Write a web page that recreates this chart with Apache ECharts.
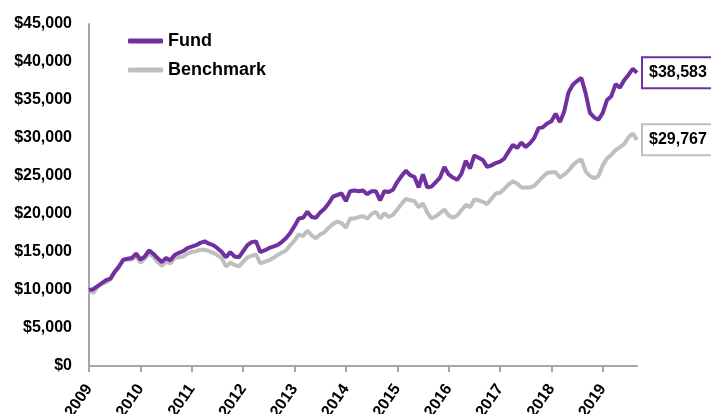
<!DOCTYPE html>
<html>
<head>
<meta charset="utf-8">
<script src="https://cdn.jsdelivr.net/npm/echarts@6/dist/echarts.min.js"></script>
<style>
    html, body { margin: 0; padding: 0; background: #fff; }
    #chart { width: 711px; height: 414px; }
</style>
</head>
<body>
<div id="chart"></div>
<script>
    // monthly growth of $10,000, Dec 2008 .. Aug 2019
    const years = ['2009', '2010', '2011', '2012', '2013', '2014', '2015', '2016', '2017', '2018', '2019']
    const fundValues = [
        10000, 10100, 10500, 10900, 11300, 11500, 12400, 13100, 14000, 14100, 14200, 14800,
        14000, 14400, 15200, 14800, 14200, 13700, 14200, 13900, 14600, 14900, 15100, 15500,
        15700, 15900, 16200, 16400, 16100, 15900, 15500, 15000, 14300, 15000, 14400, 14300,
        15100, 15900, 16300, 16400, 15000, 15200, 15500, 15700, 15900, 16300, 16800, 17500,
        18400, 19400, 19500, 20300, 19600, 19500, 20200, 20700, 21400, 22300, 22500, 22700,
        21700, 23000, 23100, 23000, 23100, 22600, 23000, 23000, 21800, 23000, 22900, 23200,
        24200, 25000, 25700, 25100, 24900, 23500, 25200, 23500, 23600, 24200, 24800, 26200,
        25200, 24800, 24500, 25300, 27000, 26000, 27700, 27400, 27100, 26200, 26400, 26700,
        26900, 27300, 28200, 29100, 28700, 29400, 28800, 29300, 30000, 31300, 31400, 31900,
        32200, 33200, 32100, 33500, 36000, 37000, 37500, 37900, 35900, 33300, 32700, 32400,
        33300, 35000, 35500, 37100, 36600, 37600, 38300, 39100, 38583
    ]
    const benchValues = [
        10000, 9600, 10400, 10800, 11000, 11400, 12300, 13000, 13900, 14000, 14000, 14500,
        13600, 14100, 14800, 14400, 13700, 13200, 13700, 13500, 14200, 14300, 14400, 14800,
        15000, 15100, 15300, 15300, 15100, 14900, 14600, 14200, 13100, 13600, 13300, 13100,
        13700, 14300, 14500, 14700, 13500, 13700, 13900, 14200, 14600, 14900, 15200, 15900,
        16500, 17300, 17100, 17800, 17200, 16800, 17300, 17600, 18200, 18700, 19000, 18800,
        18200, 19400, 19400, 19600, 19700, 19400, 20000, 20300, 19400, 20100, 19600, 19900,
        20600, 21300, 22000, 21800, 21700, 20900, 21400, 20200, 19400, 19700, 20100, 20600,
        19800, 19500, 19800, 20500, 21200, 20900, 21900, 21800, 21600, 21300, 22000, 22700,
        22800, 23300, 23900, 24300, 24000, 23500, 23500, 23500, 23700, 24300, 24900, 25400,
        25500, 25500, 24800, 25200, 25700, 26400, 26900, 27200, 25600, 25000, 24700, 25000,
        26400, 27300, 27800, 28400, 28800, 29200, 30100, 30600, 29767
    ]

    // one category per month, a year label every 12th
    const months = fundValues.map((v, i) => i)

    const font = '"Liberation Sans", Arial, sans-serif'
    const purple = '#7030A0'
    const grey = '#BFBFBF'
    const axisGrey = '#A6A6A6'
    const money = v => '$' + Math.round(v).toLocaleString('en-US')

    const chart = echarts.init(document.getElementById('chart'), null, { renderer: 'canvas' })

    const endLabel = border => ({
        show: true,
        formatter: p => money(p.value),
        distance: 6,
        fontFamily: font,
        fontSize: 16,
        fontWeight: 'bold',
        color: '#000',
        backgroundColor: '#fff',
        borderColor: border,
        borderWidth: 2,
        padding: [7, 5, 6, 6]
    })

    chart.setOption({
        animation: false,
        textStyle: { fontFamily: font },
        grid: { left: 89, right: 74, top: 24, bottom: 48, containLabel: false, outerBoundsMode: 'none' },
        legend: {
            orient: 'vertical',
            left: 123,
            top: 27,
            itemWidth: 35,
            itemHeight: 5,
            itemGap: 11,
            icon: 'roundRect',
            textStyle: { fontFamily: font, fontSize: 18, fontWeight: 'bold', color: '#000', lineHeight: 18 },
            data: ['Fund', 'Benchmark']
        },
        xAxis: {
            type: 'category',
            boundaryGap: false,
            data: months,
            axisLine: { lineStyle: { color: axisGrey, width: 2 } },
            axisTick: {
                interval: i => i % 12 === 0,
                length: 6,
                lineStyle: { color: axisGrey, width: 2 }
            },
            axisLabel: {
                interval: i => i % 12 === 0,
                formatter: (v, i) => years[i / 12] || '',
                rotate: 55,
                margin: 20,
                fontFamily: font,
                fontSize: 16,
                fontWeight: 'bold',
                color: '#000'
            },
            splitLine: { show: false }
        },
        yAxis: {
            type: 'value',
            min: 0,
            max: 45000,
            interval: 5000,
            axisLine: { show: true, lineStyle: { color: axisGrey, width: 2 } },
            axisTick: { show: false },
            splitLine: { show: false },
            axisLabel: {
                formatter: money,
                margin: 17,
                fontFamily: font,
                fontSize: 16,
                fontWeight: 'bold',
                color: '#000'
            }
        },
        series: [
            {
                name: 'Benchmark',
                type: 'line',
                data: benchValues,
                symbol: 'none',
                itemStyle: { color: grey },
                lineStyle: { color: grey, width: 4 },
                endLabel: endLabel(grey)
            },
            {
                name: 'Fund',
                type: 'line',
                data: fundValues,
                symbol: 'none',
                itemStyle: { color: purple },
                lineStyle: { color: purple, width: 4 },
                endLabel: endLabel(purple)
            }
        ]
    })
</script>
</body>
</html>
